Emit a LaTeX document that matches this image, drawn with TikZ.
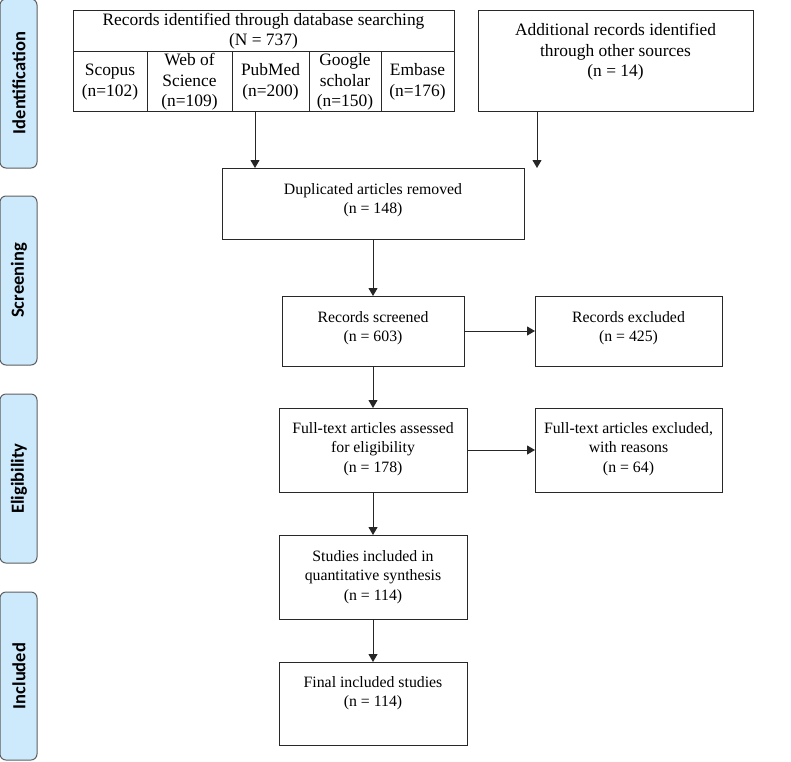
\documentclass[tikz,border=0pt]{standalone}
\usepackage{fontspec}
\setmainfont{Liberation Serif}
\newfontfamily\sidefont{Carlito}
\usetikzlibrary{arrows.meta}
\definecolor{sidefill}{RGB}{205,233,252}
\definecolor{sidedraw}{RGB}{95,95,95}
\definecolor{boxdraw}{RGB}{40,40,40}
\begin{document}
\begin{tikzpicture}[x=1pt,y=-1pt,
  box/.style={draw=boxdraw, line width=1pt, inner sep=0pt, outer sep=0pt},
  grid/.style={draw=boxdraw, line width=1pt},
  side/.style={draw=sidedraw, fill=sidefill, line width=1pt, rounded corners=6pt, inner sep=0pt, outer sep=0pt, minimum width=37pt},
  sidetxt/.style={rotate=90, inner sep=0pt, font=\sidefont\bfseries\fontsize{18.5}{20}\selectfont},
  arr/.style={-{Triangle[length=8pt,width=9pt]}, line width=1pt, draw=black!85},
  txt/.style={align=center, inner sep=0pt, font=\fontsize{15.8}{19.5}\selectfont},
  bigtxt/.style={align=center, inner sep=0pt, font=\fontsize{17.4}{20.5}\selectfont}]
\useasboundingbox (0,0) rectangle (791,761);

% side labels
\node[side, minimum height=169pt] (sid) at (18.5,83.5) {};
\node[sidetxt] (sidt) at (19,83) {Identification};
\node[side, minimum height=169pt] (sscr) at (18.5,280.5) {};
\node[sidetxt] (sscrt) at (19,280.5) {Screening};
\node[side, minimum height=169pt] (sel) at (18.5,478.5) {};
\node[sidetxt] (selt) at (19,478.5) {Eligibility};
\node[side, minimum height=168pt] (sinc) at (18.5,676) {};
\node[sidetxt] (sinct) at (19,676) {Included};

% database table
\node[box, minimum width=381pt, minimum height=101pt] (db) at (263.5,60.5) {};
\draw[grid] (73,51) -- (454,51);
\draw[grid] (147,51) -- (147,111);
\draw[grid] (232,51) -- (232,111);
\draw[grid] (309,51) -- (309,111);
\draw[grid] (381,51) -- (381,111);
\node[bigtxt] (dbh) at (263.5,31) {Records identified through database searching\\(N = 737)};
\node[bigtxt] (c1) at (110,82) {Scopus\\(n=102)};
\node[bigtxt] (c2) at (189.5,82) {Web of\\Science\\(n=109)};
\node[bigtxt] (c3) at (270.5,82) {PubMed\\(n=200)};
\node[bigtxt] (c4) at (345,82) {Google\\scholar\\(n=150)};
\node[bigtxt] (c5) at (417.5,82) {Embase\\(n=176)};

% additional
\node[box, minimum width=275pt, minimum height=101pt] (add) at (615.5,60.5) {};
\node[bigtxt] (addt) at (615.5,52) {Additional records identified\\through other sources\\(n = 14)};

% duplicates
\node[box, minimum width=302pt, minimum height=71pt] (dup) at (373,203.5) {};
\node[txt] (dupt) at (373,200) {Duplicated articles removed\\(n = 148)};

% screened
\node[box, minimum width=182pt, minimum height=70pt] (scr) at (373,331) {};
\node[txt] (scrt) at (373,328) {Records screened\\(n = 603)};
\node[box, minimum width=187pt, minimum height=70pt] (exc) at (628.5,331) {};
\node[txt] (exct) at (628.5,328) {Records excluded\\(n = 425)};

% eligibility
\node[box, minimum width=188pt, minimum height=84pt] (ft) at (373,450) {};
\node[txt] (ftt) at (373,449) {Full-text articles assessed\\for eligibility\\(n = 178)};
\node[box, minimum width=187pt, minimum height=84pt] (fte) at (628.5,450) {};
\node[txt] (ftet) at (628.5,449) {Full-text articles excluded,\\with reasons\\(n = 64)};

% included
\node[box, minimum width=188pt, minimum height=84pt] (st) at (373,577) {};
\node[txt] (stt) at (373,577) {Studies included in\\quantitative synthesis\\(n = 114)};
\node[box, minimum width=188pt, minimum height=83pt] (fin) at (373,703.5) {};
\node[txt] (fint) at (373,693) {Final included studies\\(n = 114)};

% connectors
\draw[arr] ([xshift=-8.5pt]db.south) -- ([xshift=-8.5pt]db.south |- dup.north);
\draw[arr] ([xshift=-78.5pt]add.south) -- ([xshift=-78.5pt]add.south |- dup.north);
\draw[arr] (dup.south) -- (scr.north);
\draw[arr] (scr.east) -- (exc.west);
\draw[arr] (scr.south) -- (ft.north);
\draw[arr] (ft.east) -- (fte.west);
\draw[arr] (ft.south) -- (st.north);
\draw[arr] (st.south) -- (fin.north);
\end{tikzpicture}
\end{document}
